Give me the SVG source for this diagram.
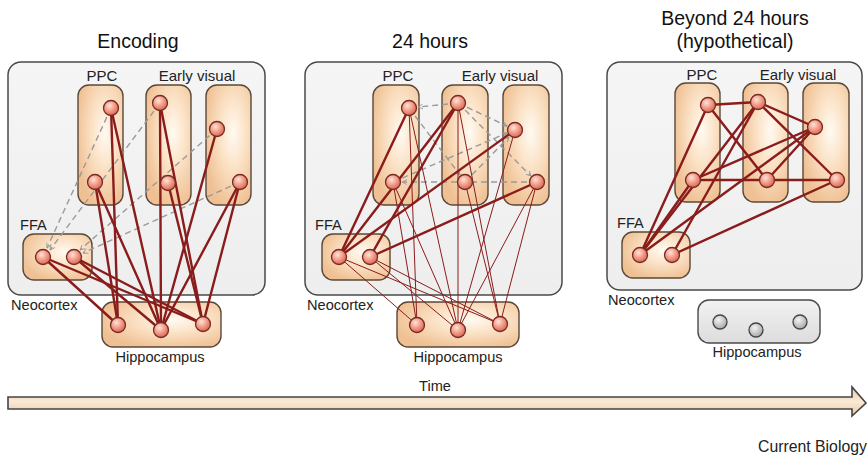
<svg xmlns="http://www.w3.org/2000/svg" width="867" height="458" viewBox="0 0 867 458">
<defs>
<radialGradient id="colG" cx="60%" cy="40%" r="65%">
<stop offset="0" stop-color="#fffaf2"/><stop offset="0.45" stop-color="#fbe2c6"/><stop offset="1" stop-color="#efc093"/>
</radialGradient>
<radialGradient id="nodeG" cx="40%" cy="35%" r="65%">
<stop offset="0" stop-color="#fde3da"/><stop offset="0.55" stop-color="#f29b86"/><stop offset="1" stop-color="#d9685a"/>
</radialGradient>
<radialGradient id="grayNodeG" cx="40%" cy="35%" r="65%">
<stop offset="0" stop-color="#f4f4f4"/><stop offset="1" stop-color="#a9a9a9"/>
</radialGradient>
<linearGradient id="bgG" x1="0" y1="0" x2="0" y2="1">
<stop offset="0" stop-color="#f5f5f5"/><stop offset="1" stop-color="#eeeeee"/>
</linearGradient>
<linearGradient id="grayBoxG" x1="0" y1="0" x2="0" y2="1">
<stop offset="0" stop-color="#f2f2f2"/><stop offset="1" stop-color="#dcdcdc"/>
</linearGradient>
<linearGradient id="arrowG" x1="0" y1="0" x2="0" y2="1">
<stop offset="0" stop-color="#e9c9a5"/><stop offset="0.5" stop-color="#f9e9d7"/><stop offset="1" stop-color="#e9c9a5"/>
</linearGradient>
<marker id="dArr" viewBox="0 0 10 10" refX="9" refY="5" markerWidth="6" markerHeight="6" orient="auto" markerUnits="userSpaceOnUse">
<path d="M1,1 L9,5 L1,9" fill="none" stroke="#9a9a9a" stroke-width="1.5"/>
</marker>
<style>
.neo{fill:url(#bgG);stroke:#4a4a4a;stroke-width:1.5}
.col{fill:url(#colG);stroke:#5a4838;stroke-width:1.4}
.gbox{fill:url(#grayBoxG);stroke:#4a4a4a;stroke-width:1.4}
.n{fill:url(#nodeG);stroke:#7a2a22;stroke-width:1.3}
.gn{fill:url(#grayNodeG);stroke:#444;stroke-width:1.3}
.e{stroke:#8a1c1c;stroke-width:2.4;fill:none;stroke-linecap:round}
.t{stroke:#8a1c1c;stroke-width:1;fill:none}
.d{stroke:#9a9a9a;stroke-width:1.4;stroke-dasharray:6 4;fill:none}
.title{font-family:"Liberation Sans",Arial,sans-serif;font-size:19.5px;fill:#111;text-anchor:middle}
.lab{font-family:"Liberation Sans",Arial,sans-serif;font-size:15px;fill:#222;text-anchor:middle}
.sm{font-family:"Liberation Sans",Arial,sans-serif;font-size:14.6px;fill:#222}
</style>
</defs>

<!-- Titles -->
<text class="title" x="138" y="48">Encoding</text>
<text class="title" x="430" y="48">24 hours</text>
<text class="title" x="735" y="25">Beyond 24 hours</text>
<text class="title" x="735" y="48">(hypothetical)</text>

<!-- Panel 1 -->
<g id="p1-neocortex">
<rect class="neo" x="8" y="62" width="257" height="233" rx="13"/>
<text class="sm" x="11" y="310">Neocortex</text>
</g>
<g id="p1-ppc"><rect class="col" x="78" y="85" width="45" height="120" rx="11"/><text class="lab" x="102" y="81">PPC</text></g>
<g id="p1-ev"><rect class="col" x="146" y="85" width="45" height="120" rx="11"/><rect class="col" x="206" y="85" width="45" height="120" rx="11"/><text class="lab" x="197" y="81">Early visual</text></g>
<g id="p1-ffa"><rect class="col" x="23" y="234" width="69" height="46" rx="11"/><text class="sm" x="20" y="230">FFA</text></g>
<g id="p1-hippo"><rect class="col" x="102" y="302" width="119" height="45" rx="11"/><text class="sm" x="160" y="362" text-anchor="middle">Hippocampus</text></g>

<g id="p1-connectors">
<line class="d" x1="111" y1="108" x2="47" y2="248" marker-end="url(#dArr)"/>
<line class="d" x1="160" y1="103" x2="50" y2="250" marker-end="url(#dArr)"/>
<line class="d" x1="217" y1="129" x2="80" y2="250" marker-end="url(#dArr)"/>
<line class="d" x1="240" y1="182" x2="83" y2="253" marker-end="url(#dArr)"/>
<line class="e" x1="111" y1="108" x2="118" y2="325"/>
<line class="e" x1="111" y1="108" x2="161" y2="330"/>
<line class="e" x1="95" y1="182" x2="118" y2="325"/>
<line class="e" x1="95" y1="182" x2="161" y2="330"/>
<line class="e" x1="160" y1="103" x2="161" y2="330"/>
<line class="e" x1="160" y1="103" x2="203" y2="324"/>
<line class="e" x1="168" y1="183" x2="203" y2="324"/>
<line class="e" x1="217" y1="129" x2="161" y2="330"/>
<line class="e" x1="240" y1="182" x2="161" y2="330"/>
<line class="e" x1="240" y1="182" x2="203" y2="324"/>
<line class="e" x1="43" y1="257" x2="118" y2="325"/>
<line class="e" x1="43" y1="257" x2="203" y2="324"/>
<line class="e" x1="74" y1="257" x2="161" y2="330"/>
<line class="e" x1="74" y1="257" x2="203" y2="324"/>
</g>
<g id="p1-nodes">
<circle class="n" cx="111" cy="108" r="7.5"/><circle class="n" cx="95" cy="182" r="7.5"/>
<circle class="n" cx="160" cy="103" r="7.5"/><circle class="n" cx="168" cy="183" r="7.5"/>
<circle class="n" cx="217" cy="129" r="7.5"/><circle class="n" cx="240" cy="182" r="7.5"/>
<circle class="n" cx="43" cy="257" r="7.5"/><circle class="n" cx="74" cy="257" r="7.5"/>
<circle class="n" cx="118" cy="325" r="7.5"/><circle class="n" cx="161" cy="330" r="7.5"/><circle class="n" cx="203" cy="324" r="7.5"/>
</g>

<!-- Panel 2 -->
<g id="p2-neocortex">
<rect class="neo" x="305" y="62" width="257" height="233" rx="13"/>
<text class="sm" x="307" y="310">Neocortex</text>
</g>
<g id="p2-ppc"><rect class="col" x="373" y="85" width="46" height="120" rx="11"/><text class="lab" x="398" y="81">PPC</text></g>
<g id="p2-ev"><rect class="col" x="442" y="85" width="46" height="120" rx="11"/><rect class="col" x="503" y="85" width="46" height="120" rx="11"/><text class="lab" x="500" y="81">Early visual</text></g>
<g id="p2-ffa"><rect class="col" x="322" y="234" width="68" height="46" rx="11"/><text class="sm" x="315" y="230">FFA</text></g>
<g id="p2-hippo"><rect class="col" x="397" y="302" width="122" height="45" rx="11"/><text class="sm" x="458" y="362" text-anchor="middle">Hippocampus</text></g>

<g id="p2-connectors">
<line class="d" x1="458" y1="103" x2="418" y2="107" marker-end="url(#dArr)"/>
<line class="d" x1="409" y1="108" x2="460" y2="175" marker-end="url(#dArr)"/>
<line class="d" x1="458" y1="103" x2="507" y2="126" marker-end="url(#dArr)"/>
<line class="d" x1="458" y1="103" x2="531" y2="176" marker-end="url(#dArr)"/>
<line class="d" x1="393" y1="182" x2="507" y2="133" marker-end="url(#dArr)"/>
<line class="d" x1="537" y1="182" x2="402" y2="182" marker-end="url(#dArr)"/>
<line class="d" x1="465" y1="182" x2="509" y2="137" marker-end="url(#dArr)"/>
<line class="t" x1="409" y1="108" x2="417" y2="325"/>
<line class="t" x1="409" y1="108" x2="458" y2="330"/>
<line class="t" x1="393" y1="182" x2="417" y2="325"/>
<line class="t" x1="393" y1="182" x2="458" y2="330"/>
<line class="t" x1="458" y1="103" x2="458" y2="330"/>
<line class="t" x1="458" y1="103" x2="500" y2="324"/>
<line class="t" x1="465" y1="182" x2="500" y2="324"/>
<line class="t" x1="515" y1="130" x2="458" y2="330"/>
<line class="t" x1="537" y1="182" x2="458" y2="330"/>
<line class="t" x1="537" y1="182" x2="500" y2="324"/>
<line class="t" x1="339" y1="257" x2="417" y2="325"/>
<line class="t" x1="339" y1="257" x2="500" y2="324"/>
<line class="t" x1="370" y1="257" x2="458" y2="330"/>
<line class="t" x1="370" y1="257" x2="500" y2="324"/>
<line class="e" x1="339" y1="257" x2="409" y2="108"/>
<line class="e" x1="339" y1="257" x2="458" y2="103"/>
<line class="e" x1="339" y1="257" x2="515" y2="130"/>
<line class="e" x1="370" y1="257" x2="458" y2="103"/>
<line class="e" x1="370" y1="257" x2="537" y2="182"/>
</g>
<g id="p2-nodes">
<circle class="n" cx="409" cy="108" r="7.5"/><circle class="n" cx="393" cy="182" r="7.5"/>
<circle class="n" cx="458" cy="103" r="7.5"/><circle class="n" cx="465" cy="182" r="7.5"/>
<circle class="n" cx="515" cy="130" r="7.5"/><circle class="n" cx="537" cy="182" r="7.5"/>
<circle class="n" cx="339" cy="257" r="7.5"/><circle class="n" cx="370" cy="257" r="7.5"/>
<circle class="n" cx="417" cy="325" r="7.5"/><circle class="n" cx="458" cy="330" r="7.5"/><circle class="n" cx="500" cy="324" r="7.5"/>
</g>

<!-- Panel 3 -->
<g id="p3-neocortex">
<rect class="neo" x="607" y="62" width="255" height="228" rx="13"/>
<text class="sm" x="608" y="305">Neocortex</text>
</g>
<g id="p3-ppc"><rect class="col" x="675" y="83" width="45" height="119" rx="11"/><text class="lab" x="702" y="80">PPC</text></g>
<g id="p3-ev"><rect class="col" x="743" y="83" width="45" height="119" rx="11"/><rect class="col" x="803" y="83" width="46" height="119" rx="11"/><text class="lab" x="798" y="80">Early visual</text></g>
<g id="p3-ffa"><rect class="col" x="622" y="232" width="68" height="46" rx="11"/><text class="sm" x="617" y="228">FFA</text></g>
<g id="p3-hippo"><rect class="gbox" x="698" y="300" width="122" height="43" rx="11"/><text class="sm" x="757" y="357" text-anchor="middle">Hippocampus</text></g>

<g id="p3-connectors">
<line class="e" x1="708" y1="105" x2="758" y2="102"/>
<line class="e" x1="708" y1="105" x2="767" y2="180"/>
<line class="e" x1="758" y1="102" x2="815" y2="127"/>
<line class="e" x1="758" y1="102" x2="837" y2="180"/>
<line class="e" x1="693" y1="180" x2="815" y2="127"/>
<line class="e" x1="693" y1="180" x2="837" y2="180"/>
<line class="e" x1="767" y1="180" x2="815" y2="127"/>
<line class="e" x1="640" y1="255" x2="708" y2="105"/>
<line class="e" x1="640" y1="255" x2="693" y2="180"/>
<line class="e" x1="640" y1="255" x2="758" y2="102"/>
<line class="e" x1="640" y1="255" x2="815" y2="127"/>
<line class="e" x1="672" y1="255" x2="758" y2="102"/>
<line class="e" x1="672" y1="255" x2="837" y2="180"/>
</g>
<g id="p3-nodes">
<circle class="n" cx="708" cy="105" r="7.5"/><circle class="n" cx="693" cy="180" r="7.5"/>
<circle class="n" cx="758" cy="102" r="7.5"/><circle class="n" cx="767" cy="180" r="7.5"/>
<circle class="n" cx="815" cy="127" r="7.5"/><circle class="n" cx="837" cy="180" r="7.5"/>
<circle class="n" cx="640" cy="255" r="7.5"/><circle class="n" cx="672" cy="255" r="7.5"/>
<circle class="gn" cx="720" cy="322" r="7"/><circle class="gn" cx="756" cy="330" r="7"/><circle class="gn" cx="800" cy="322" r="7"/>
</g>

<!-- Time arrow -->
<g id="time-arrow">
<polygon points="8,397 852,397 852,387 866,403 852,416 852,409 8,409" fill="url(#arrowG)" stroke="#444" stroke-width="1.6" stroke-linejoin="miter"/>
<text class="sm" x="435" y="391" text-anchor="middle">Time</text>
</g>
<text class="sm" x="758" y="452" style="font-size:15.8px">Current Biology</text>
</svg>
